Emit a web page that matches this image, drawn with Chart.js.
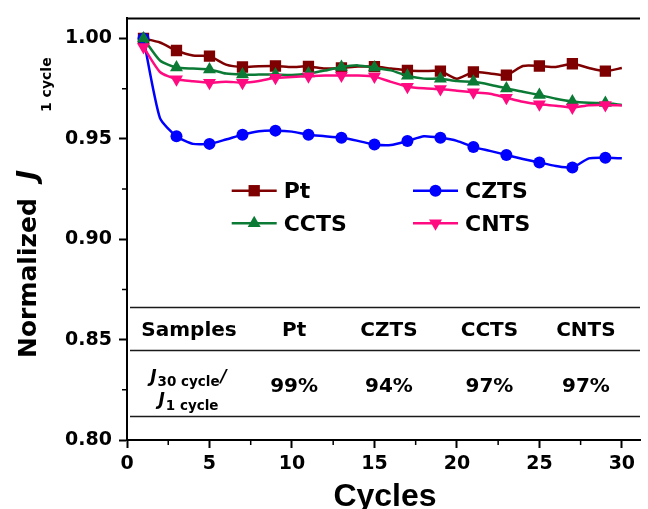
<!DOCTYPE html>
<html lang="en">
<head>
  <meta charset="UTF-8">
  <title>Normalized J vs cycles</title>
  <script src="https://cdn.jsdelivr.net/npm/chart.js@4.4.0/dist/chart.umd.min.js"></script>
  <style>
    html, body { margin: 0; padding: 0; background: #fff; }
    .chart-box { position: relative; width: 648px; height: 509px; }
  </style>
</head>
<body>
  <div class="chart-box">
    <canvas id="stabilityChart" width="648" height="509"></canvas>
  </div>

  <script>
    // cycle numbers (x) and normalized current density per cycle
    const cycles = [1, 2, 3, 4, 5, 6, 7, 8, 9, 10, 11, 12, 13, 14, 15,
                    16, 17, 18, 19, 20, 21, 22, 23, 24, 25, 26, 27, 28, 29, 30];

    const ptValues = [1.000, 0.998, 0.994, 0.9915, 0.9912, 0.987, 0.9858, 0.9862, 0.9863, 0.9858,
                      0.9861, 0.985, 0.9853, 0.986, 0.986, 0.985, 0.9841, 0.9838, 0.9837, 0.980,
                      0.9833, 0.9826, 0.9817, 0.9863, 0.9863, 0.9858, 0.9874, 0.9853, 0.9837, 0.9853];

    const cztsValues = [1.000, 0.9603, 0.9513, 0.9475, 0.9475, 0.9497, 0.9521, 0.9538, 0.9541, 0.9536,
                        0.952, 0.9513, 0.9505, 0.949, 0.9472, 0.9469, 0.9489, 0.9513, 0.9505, 0.949,
                        0.9459, 0.944, 0.942, 0.940, 0.9382, 0.9365, 0.9357, 0.9403, 0.9406, 0.9403];

    const cctsValues = [1.000, 0.989, 0.9855, 0.985, 0.9846, 0.9825, 0.982, 0.982, 0.982, 0.9818,
                        0.9825, 0.984, 0.9858, 0.9866, 0.9855, 0.9841, 0.9814, 0.980, 0.980, 0.9788,
                        0.9784, 0.977, 0.9751, 0.9735, 0.9718, 0.970, 0.9686, 0.968, 0.9678, 0.9669];

    const cntsValues = [0.9957, 0.9833, 0.9797, 0.9787, 0.978, 0.9785, 0.978, 0.9788, 0.9804, 0.9808,
                        0.9812, 0.9815, 0.9815, 0.9815, 0.981, 0.9784, 0.976, 0.9752, 0.9748, 0.974,
                        0.9732, 0.9725, 0.9705, 0.9685, 0.9672, 0.9665, 0.9656, 0.9668, 0.9669, 0.9666];

    const xTickValues = [0, 5, 10, 15, 20, 25, 30];
    const yTickValues = [0.80, 0.85, 0.90, 0.95, 1.00];

    // inset table
    const tableHeader = ['Samples', 'Pt', 'CZTS', 'CCTS', 'CNTS'];
    const tableRatios = ['99%', '94%', '97%', '97%'];

    const series = [
      { label: 'Pt',   values: ptValues,   color: '#7f0000', style: 'rect',     radius: 8,   rotation: 0 },
      { label: 'CZTS', values: cztsValues, color: '#0000ff', style: 'circle',   radius: 6,   rotation: 0 },
      { label: 'CCTS', values: cctsValues, color: '#0b7a35', style: 'triangle', radius: 7.5, rotation: 0 },
      { label: 'CNTS', values: cntsValues, color: '#ff0a80', style: 'triangle', radius: 7.5, rotation: 180 }
    ];

    const tickFont = { family: '"DejaVu Sans"', size: 19, weight: 'bold' };

    // draws one marker like chart.js does (used for the legend)
    function drawMarker(ctx, s, x, y) {
      ctx.fillStyle = s.color;
      ctx.beginPath();
      if (s.style === 'rect') {
        const h = s.radius * Math.SQRT1_2;
        ctx.rect(x - h, y - h, 2 * h, 2 * h);
      } else if (s.style === 'circle') {
        ctx.arc(x, y, s.radius, 0, Math.PI * 2);
      } else {
        let rad = s.rotation * Math.PI / 180;
        for (let i = 0; i < 3; i++) {
          const px = x + Math.sin(rad) * s.radius;
          const py = y - Math.cos(rad) * s.radius;
          if (i === 0) ctx.moveTo(px, py); else ctx.lineTo(px, py);
          rad += Math.PI * 2 / 3;
        }
        ctx.closePath();
      }
      ctx.fill();
    }

    // frame, minor ticks, legend, table and axis titles
    const extras = {
      id: 'extras',
      afterDraw(chart) {
        const ctx = chart.ctx;
        const area = chart.chartArea;
        const xs = chart.scales.x;
        const ys = chart.scales.y;
        ctx.save();

        // top frame line
        ctx.strokeStyle = '#000';
        ctx.lineWidth = 2;
        ctx.beginPath();
        ctx.moveTo(area.left - 1, area.top);
        ctx.lineTo(area.right, area.top);
        ctx.stroke();

        // minor ticks
        ctx.lineWidth = 1.5;
        ctx.beginPath();
        for (let v = 2.5; v < xs.max; v += 5) {
          const px = xs.getPixelForValue(v);
          ctx.moveTo(px, area.bottom);
          ctx.lineTo(px, area.bottom + 5);
        }
        for (let v = 0.825; v < ys.max; v += 0.05) {
          const py = ys.getPixelForValue(v);
          ctx.moveTo(area.left, py);
          ctx.lineTo(area.left - 5, py);
        }
        ctx.stroke();

        // legend
        const legendCols = [231.7, 413];
        const legendRows = [190.7, 223.3];
        ctx.font = 'bold 22px "DejaVu Sans"';
        ctx.textBaseline = 'alphabetic';
        ctx.textAlign = 'left';
        series.forEach((s, i) => {
          const lx = legendCols[i % 2];
          const ly = legendRows[Math.floor(i / 2)];
          ctx.strokeStyle = s.color;
          ctx.lineWidth = 2.5;
          ctx.beginPath();
          ctx.moveTo(lx, ly);
          ctx.lineTo(lx + 45, ly);
          ctx.stroke();
          drawMarker(ctx, s, lx + 22.5, ly);
          ctx.fillStyle = '#000';
          ctx.fillText(s.label, lx + 52, ly + 7.5);
        });

        // table lines
        ctx.strokeStyle = '#1a1a1a';
        ctx.lineWidth = 1.5;
        [0.8663, 0.8449, 0.8122].forEach(v => {
          const py = Math.round(ys.getPixelForValue(v)) + 0.5;
          ctx.beginPath();
          ctx.moveTo(area.left + 3, py);
          ctx.lineTo(area.right, py);
          ctx.stroke();
        });

        // table text
        const colX = [3.76, 10.13, 15.88, 21.97, 27.82].map(v => xs.getPixelForValue(v));
        ctx.fillStyle = '#000';
        ctx.textAlign = 'center';
        ctx.font = 'bold 20px "DejaVu Sans"';
        tableHeader.forEach((t, i) => ctx.fillText(t, colX[i], 336));
        tableRatios.forEach((t, i) => ctx.fillText(t, colX[i + 1], 392));

        // J30 cycle / J1 cycle label
        ctx.textAlign = 'left';
        const jFont = 'italic bold 17px "DejaVu Sans"';
        const subFont = 'bold 13.5px "DejaVu Sans"';
        const parts1 = [['J', jFont, 0], ['30 cycle', subFont, 4.5], ['/', jFont, 0]];
        const parts2 = [['J', jFont, 0], ['1 cycle', subFont, 4.5]];
        [[parts1, 381.7], [parts2, 405]].forEach(([parts, base]) => {
          let total = 0;
          parts.forEach(p => { ctx.font = p[1]; total += ctx.measureText(p[0]).width + 1; });
          let cx = colX[0] - total / 2;
          parts.forEach(p => {
            ctx.font = p[1];
            ctx.fillText(p[0], cx, base + p[2]);
            cx += ctx.measureText(p[0]).width + 1;
          });
        });

        // x title
        ctx.textAlign = 'center';
        ctx.font = 'bold 32px "Liberation Sans", Arial';
        ctx.fillText('Cycles', 385, 506);

        // y title (rotated, with subscript)
        ctx.translate(36, 358);
        ctx.rotate(-Math.PI / 2);
        ctx.textAlign = 'left';
        ctx.font = 'bold 25px "DejaVu Sans"';
        ctx.fillText('Normalized', 0, 0);
        ctx.font = 'italic bold 27px "DejaVu Sans"';
        ctx.fillText('J', 178, 0);
        ctx.font = 'bold 14px "DejaVu Sans"';
        ctx.fillText('1 cycle', 246, 15);

        ctx.restore();
      }
    };

    const datasets = series.map((s, i) => ({
      label: s.label,
      data: cycles.map((c, k) => ({ x: c, y: s.values[k] })),
      borderColor: s.color,
      backgroundColor: s.color,
      borderWidth: 2.5,
      tension: 0.2,
      pointStyle: s.style,
      pointRotation: s.rotation,
      pointRadius: c => (c.dataIndex % 2 === 0 ? s.radius : 0),
      pointBorderWidth: 0,
      pointHoverRadius: 0,
      order: 4 - i
    }));

    new Chart(document.getElementById('stabilityChart'), {
      type: 'line',
      data: { datasets },
      options: {
        responsive: false,
        animation: false,
        layout: { padding: { top: 14, right: 0, bottom: 0, left: 0 } },
        plugins: { legend: { display: false }, tooltip: { enabled: false } },
        scales: {
          x: {
            type: 'linear',
            min: 0,
            max: 31.1,
            afterBuildTicks: s => { s.ticks = xTickValues.map(v => ({ value: v })); },
            afterFit: s => { s.height = 69; },
            border: { color: '#000', width: 2 },
            grid: { drawOnChartArea: false, drawTicks: true, tickLength: 8, tickColor: '#000', tickWidth: 2 },
            ticks: { color: '#000', font: tickFont, padding: 5, maxRotation: 0, callback: v => String(v) }
          },
          y: {
            min: 0.8,
            max: 1.01,
            afterBuildTicks: s => { s.ticks = yTickValues.map(v => ({ value: v })); },
            afterFit: s => { s.width = 127; },
            border: { color: '#000', width: 2 },
            grid: { drawOnChartArea: false, drawTicks: true, tickLength: 8, tickColor: '#000', tickWidth: 2 },
            ticks: { color: '#000', font: tickFont, padding: 7, callback: v => v.toFixed(2) }
          }
        }
      },
      plugins: [extras]
    });
  </script>
</body>
</html>
